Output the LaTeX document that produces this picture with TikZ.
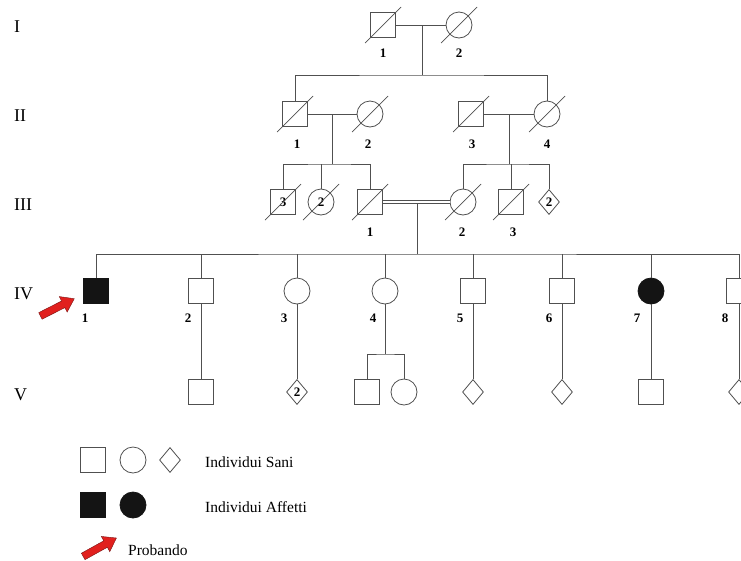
\documentclass[tikz,border=0pt]{standalone}
\usepackage{fontspec}
\setmainfont{Liberation Serif}
\usetikzlibrary{shapes.geometric,shapes.arrows,calc}

\definecolor{lc}{RGB}{80,80,80}
\definecolor{probred}{RGB}{225,32,30}
\definecolor{probdark}{RGB}{120,20,20}

\tikzset{
  conn/.style={draw=lc, line width=0.8pt},
  ind/.style={draw=lc, line width=0.8pt, inner sep=0pt, fill=white,
    font=\bfseries\fontsize{13}{13}\selectfont},
  male/.style={ind, rectangle, minimum size=25pt},
  female/.style={ind, circle, minimum size=26pt},
  unk/.style={ind, diamond, minimum width=21pt, minimum height=25pt},
  aff/.style={fill=black!92, draw=black!92},
  num/.style={font=\bfseries\fontsize{13}{13}\selectfont, anchor=base, inner sep=0pt},
  gen/.style={font=\fontsize{18}{18}\selectfont, anchor=base west, inner sep=0pt},
  legtext/.style={font=\fontsize{15.5}{15.5}\selectfont, anchor=base west, inner sep=0pt},
  slashline/.style={draw=lc, line width=0.7pt},
  probarrow/.style={single arrow, fill=probred, draw=probdark, line width=0.4pt,
    minimum height=38pt, minimum width=17pt, inner sep=3.5pt,
    single arrow head extend=5pt, single arrow tip angle=70},
  marriage2/.style={draw=lc, line width=0.7pt, double=white, double distance=2pt}
}

% diagonal stroke marking a deceased individual
\newcommand\deceased[1]{\draw[slashline] ($(#1)+(-18,18)$) -- ($(#1)+(18,-18)$);}

\begin{document}
\begin{tikzpicture}[x=1pt,y=-1pt]
\clip (0,0) rectangle (741,560);
\fill[white] (0,0) rectangle (741,560);

% generation numerals
\node[gen] (genI)   at (14,32)  {I};
\node[gen] (genII)  at (14,121) {II};
\node[gen] (genIII) at (14,210) {III};
\node[gen] (genIV)  at (14,299) {IV};
\node[gen] (genV)   at (14,400) {V};

% ---------- generation I ----------
\node[male]   (g1a) at (383,25) {};
\node[female] (g1b) at (459,25) {};
\node[num] (n1a) at (383,57) {1};
\node[num] (n1b) at (459,57) {2};
\coordinate (m1) at (422,25);
\coordinate (s1) at (422,75);
\draw[conn] (g1a.east) -- (g1b.west);
\draw[conn] (m1) -- (s1);

% ---------- generation II ----------
\node[male]   (g2a) at (295,114) {};
\node[female] (g2b) at (370,114) {};
\node[male]   (g2c) at (471,114) {};
\node[female] (g2d) at (547,114) {};
\node[num] (n2a) at (297,148) {1};
\node[num] (n2b) at (368,148) {2};
\node[num] (n2c) at (472,148) {3};
\node[num] (n2d) at (547,148) {4};
\draw[conn] (g2a.north) |- (s1) -| (g2d.north);
\draw[conn] (g2a.east) -- (g2b.west);
\draw[conn] (g2c.east) -- (g2d.west);
\coordinate (m2a) at (332,114);
\coordinate (s2a) at (332,164);
\coordinate (m2b) at (509,114);
\coordinate (s2b) at (509,164);
\draw[conn] (m2a) -- (s2a);
\draw[conn] (m2b) -- (s2b);

% ---------- generation III ----------
\node[male]   (g3s) at (283,202) {3};
\node[female] (g3f) at (321,202) {2};
\node[male]   (g3a) at (370,202) {};
\node[female] (g3b) at (463,202) {};
\node[male]   (g3c) at (511,202) {};
\node[unk]    (g3d) at (549,202) {2};
\node[num] (n3a) at (370,236) {1};
\node[num] (n3b) at (462,236) {2};
\node[num] (n3c) at (513,236) {3};
\draw[conn] (g3s.north) |- (s2a) -| (g3a.north);
\draw[conn] (g3f.north) -- (g3f.north |- s2a);
\draw[conn] (g3b.north) |- (s2b) -| (g3d.north);
\draw[conn] (g3c.north) -- (g3c.north |- s2b);
\draw[marriage2] (g3a.east) -- (g3b.west);
\coordinate (m3) at (417,204);
\coordinate (s3) at (417,254);
\draw[conn] (m3) -- (s3);

% deceased marks
\foreach \p in {g1a,g1b,g2a,g2b,g2c,g2d,g3s,g3f,g3a,g3b,g3c}{\deceased{\p}}

% ---------- generation IV ----------
\node[male, aff] (g4a) at (96,291)  {};
\node[male]      (g4b) at (201,291) {};
\node[female]    (g4c) at (297,291) {};
\node[female]    (g4d) at (385,291) {};
\node[male]      (g4e) at (473,291) {};
\node[male]      (g4f) at (562,291) {};
\node[female, aff] (g4g) at (651,291) {};
\node[male]      (g4h) at (739,291) {};
\node[num] (n4a) at (85,322)  {1};
\node[num] (n4b) at (188,322) {2};
\node[num] (n4c) at (284,322) {3};
\node[num] (n4d) at (373,322) {4};
\node[num] (n4e) at (460,322) {5};
\node[num] (n4f) at (549,322) {6};
\node[num] (n4g) at (637,322) {7};
\node[num] (n4h) at (725,322) {8};
\draw[conn] (g4a.north) |- (s3) -| (g4h.north);
\foreach \c in {g4b,g4c,g4d,g4e,g4f,g4g}{\draw[conn] (\c.north) -- (\c.north |- s3);}

% proband
\node[probarrow, rotate=27] (parrow) at (55,308.5) {};

% ---------- generation V ----------
\node[male]   (g5b)  at (201,392) {};
\node[unk]    (g5c)  at (297,392) {2};
\node[male]   (g5d1) at (367,392) {};
\node[female] (g5d2) at (404,392) {};
\node[unk]    (g5e)  at (473,392) {};
\node[unk]    (g5f)  at (562,392) {};
\node[male]   (g5g)  at (651,392) {};
\node[unk]    (g5h)  at (739,392) {};
\draw[conn] (g4b.south) -- (g5b.north);
\draw[conn] (g4c.south) -- (g5c.north);
\coordinate (s4d) at (385,354);
\draw[conn] (g4d.south) -- (s4d);
\draw[conn] (g5d1.north) |- (s4d) -| (g5d2.north);
\draw[conn] (g4e.south) -- (g5e.north);
\draw[conn] (g4f.south) -- (g5f.north);
\draw[conn] (g4g.south) -- (g5g.north);
\draw[conn] (g4h.south) -- (g5h.north);

% ---------- legend ----------
\node[male]   (lgm) at (93,460)  {};
\node[female] (lgf) at (133,460) {};
\node[unk]    (lgu) at (170,460) {};
\node[legtext] (lgs) at (205,467) {Individui Sani};
\node[male, aff]   (lam) at (93,505)  {};
\node[female, aff] (laf) at (133,505) {};
\node[legtext] (lga) at (205,512) {Individui Affetti};
\node[probarrow, rotate=29] (larrow) at (97.5,548.5) {};
\node[legtext] (lgp) at (128,555) {Probando};
\end{tikzpicture}
\end{document}
